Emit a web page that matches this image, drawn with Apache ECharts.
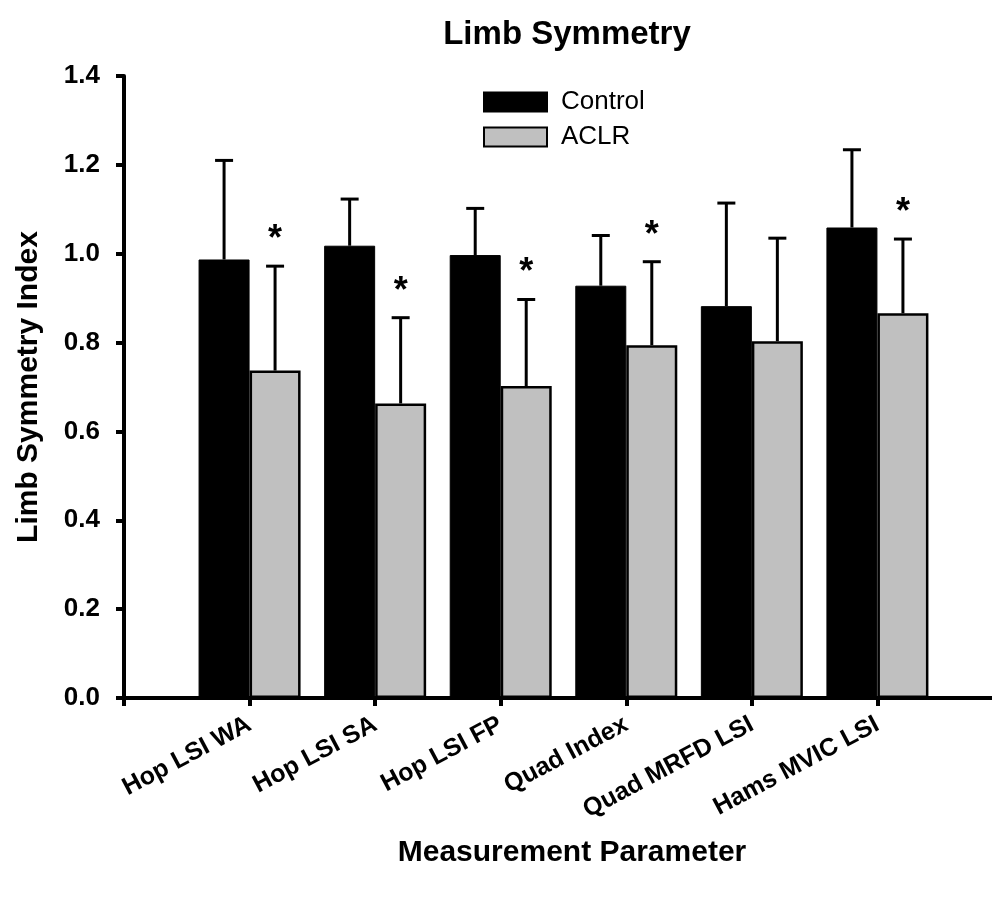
<!DOCTYPE html>
<html>
<head>
<meta charset="utf-8">
<script src="https://cdn.jsdelivr.net/npm/echarts@6/dist/echarts.min.js"></script>
<style>
  html, body { margin: 0; padding: 0; background: #ffffff; }
  #chart { width: 992px; height: 903px; }
</style>
</head>
<body>
<div id="chart"></div>
<script>
// ---- data ----
const categories = ['Hop LSI WA', 'Hop LSI SA', 'Hop LSI FP', 'Quad Index', 'Quad MRFD LSI', 'Hams MVIC LSI'];
const controlMean = [0.987, 1.018, 0.997, 0.928, 0.882, 1.059];
const controlSD   = [0.223, 0.105, 0.105, 0.113, 0.232, 0.175];
const aclrMean    = [0.737, 0.663, 0.702, 0.794, 0.803, 0.866];
const aclrSD      = [0.235, 0.193, 0.195, 0.188, 0.232, 0.167];
const aclrSignificant = [1, 1, 1, 1, 0, 1];
const yTickValues = [0.0, 0.2, 0.4, 0.6, 0.8, 1.0, 1.2, 1.4];

const FONT = 'Liberation Sans, Arial, Helvetica, sans-serif';
const BAR_W = 51;

const controlBars = categories.map((c, i) => [i + 1, controlMean[i]]);
const aclrBars = categories.map((c, i) => [i + 1, aclrMean[i]]);
const controlErr = categories.map((c, i) => [i + 1, controlMean[i], controlMean[i] + controlSD[i], 0]);
const aclrErr = categories.map((c, i) => [i + 1, aclrMean[i], aclrMean[i] + aclrSD[i], aclrSignificant[i]]);

function errRenderer(offsetSign) {
  return function (params, api) {
    const x = api.value(0);
    const base = api.coord([x, api.value(1)]);
    const top = api.coord([x, api.value(2)]);
    const cx = base[0] + offsetSign * BAR_W / 2;
    const children = [
      { type: 'line', shape: { x1: cx, y1: base[1], x2: cx, y2: top[1] },
        style: { stroke: '#000', lineWidth: 3 } },
      { type: 'line', shape: { x1: cx - 9, y1: top[1], x2: cx + 9, y2: top[1] },
        style: { stroke: '#000', lineWidth: 3 } }
    ];
    if (api.value(3)) {
      children.push({ type: 'text', style: {
        x: cx, y: top[1] - 26, text: '*', fill: '#000',
        font: 'bold 36px ' + FONT, align: 'center', verticalAlign: 'middle' } });
    }
    return { type: 'group', children: children };
  };
}

const chart = echarts.init(document.getElementById('chart'), null, { renderer: 'canvas' });
chart.setOption({
  animation: false,
  backgroundColor: '#ffffff',
  title: {
    text: 'Limb Symmetry',
    left: 567, top: 18, textAlign: 'center', padding: 0,
    textStyle: { fontFamily: FONT, fontWeight: 'bold', fontSize: 33, color: '#000' }
  },
  legend: {
    orient: 'vertical',
    left: 483, top: 89, padding: 0,
    itemWidth: 63, itemHeight: 19, itemGap: 9,
    icon: 'rect',
    textStyle: { fontFamily: FONT, fontSize: 26, color: '#000', lineHeight: 19, padding: [0, 0, 0, 9] },
    data: ['Control', 'ACLR']
  },
  grid: { left: 124, top: 76, width: 879, height: 622, outerBoundsMode: 'none', containLabel: false },
  xAxis: {
    type: 'value', min: 0, max: 7, interval: 1,
    name: 'Measurement Parameter', nameLocation: 'middle', nameGap: 140,
    nameTextStyle: { fontFamily: FONT, fontWeight: 'bold', fontSize: 30, color: '#000', padding: [0, 0, 0, 17] },
    axisLine: { show: true, lineStyle: { color: '#000', width: 4 } },
    axisTick: { show: true, length: 8, lineStyle: { color: '#000', width: 4 } },
    splitLine: { show: false },
    axisLabel: {
      rotate: 28, margin: 25,
      fontFamily: FONT, fontWeight: 'bold', fontSize: 25, color: '#000',
      formatter: function (v) {
        return (Number.isInteger(v) && v >= 1 && v <= categories.length) ? categories[v - 1] : '';
      }
    }
  },
  yAxis: {
    type: 'value', min: 0, max: 1.4, interval: 0.2,
    name: 'Limb Symmetry Index', nameLocation: 'middle', nameGap: 80,
    nameTextStyle: { fontFamily: FONT, fontWeight: 'bold', fontSize: 30, color: '#000' },
    axisLine: { show: true, lineStyle: { color: '#000', width: 4 } },
    axisTick: { show: true, length: 8, lineStyle: { color: '#000', width: 4 } },
    splitLine: { show: false },
    axisLabel: {
      margin: 24, fontFamily: FONT, fontWeight: 'bold', fontSize: 26, color: '#000',
      formatter: function (v) { return v.toFixed(1); }
    }
  },
  series: [
    { name: 'Control', type: 'bar', data: controlBars, barWidth: BAR_W, barGap: '0%',
      itemStyle: { color: '#000000', borderColor: '#000000', borderWidth: 1 }, z: 2 },
    { name: 'ACLR', type: 'bar', data: aclrBars, barWidth: BAR_W, barGap: '0%',
      itemStyle: { color: '#c0c0c0', borderColor: '#000000', borderWidth: 2.5 }, z: 2 },
    { name: 'ControlErr', type: 'custom', data: controlErr, renderItem: errRenderer(-1), z: 3,
      encode: { x: 0, y: [1, 2] }, silent: true },
    { name: 'ACLRErr', type: 'custom', data: aclrErr, renderItem: errRenderer(1), z: 3,
      encode: { x: 0, y: [1, 2] }, silent: true }
  ]
});
</script>
</body>
</html>
